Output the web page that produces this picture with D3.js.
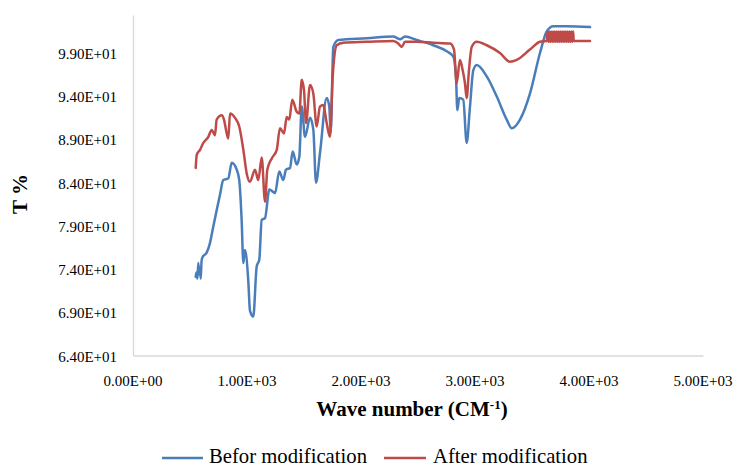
<!DOCTYPE html>
<html>
<head>
<meta charset="utf-8">
<script src="https://cdn.jsdelivr.net/npm/d3@7"></script>
<style>
  html, body { margin: 0; padding: 0; background: #fff; }
  svg { display: block; }
  svg text { font-family: "Liberation Serif", "Times New Roman", serif; fill: #000; }
</style>
</head>
<body>
<svg id="chart" width="739" height="466"></svg>
<script>
// ---- data ----
const xTicks = [0, 1000, 2000, 3000, 4000, 5000];
const yTicks = [64, 69, 74, 79, 84, 89, 94, 99];

const beforeX = [550, 557, 565, 573, 580, 587, 594, 602, 611, 646, 675, 704, 734, 763, 792, 836, 866, 910, 932, 953, 968, 982, 1011, 1026, 1055,
  1085, 1108, 1129, 1158, 1196, 1246, 1283, 1318, 1342, 1377, 1401, 1436, 1459, 1480, 1509, 1553, 1582, 1605, 1640, 1699,
  1722, 1734, 1757, 1801, 2050, 2283, 2342, 2386, 2489, 2634, 2752, 2810, 2833, 2845, 2862, 2897, 2927, 2956, 2985, 3015,
  3103, 3190, 3278, 3322, 3395, 3482, 3570, 3629, 3687, 3804, 4009];
const beforeY = [73.1, 73.6, 72.9, 74.7, 73.4, 74.2, 72.9, 75.0, 75.4, 75.9, 77.0, 78.9, 80.8, 82.6, 84.3, 84.5, 86.3, 85.5, 84.3, 79.7, 74.7, 76.2, 72.7, 69.2, 68.5,
  74.3, 75.1, 79.7, 79.9, 83.2, 82.8, 85.3, 84.3, 85.5, 85.7, 87.6, 86.1, 87.0, 92.8, 89.3, 91.5, 90.1, 84.0, 87.4, 93.8,
  92.8, 89.8, 99.7, 100.5, 100.7, 100.9, 100.6, 100.9, 100.5, 99.9, 99.2, 98.6, 96.3, 92.4, 93.8, 93.6, 88.6, 92.8, 97.0, 97.6,
  96.3, 94.0, 91.3, 90.3, 91.3, 94.3, 99.0, 101.5, 102.1, 102.1, 102.0];

const afterX = [550, 559, 588, 617, 661, 690, 719, 734, 778, 798, 822, 836, 851, 895, 932, 968, 997, 1026, 1070, 1099,
  1129, 1158, 1178, 1217, 1261, 1289, 1325, 1348, 1371, 1397, 1436, 1459, 1480, 1500, 1518, 1553, 1582, 1611, 1640, 1669,
  1699, 1728, 1752, 1787, 1845, 2050, 2283, 2327, 2357, 2386, 2489, 2634, 2781, 2816, 2839, 2868, 2892, 2912, 2927, 2947,
  2971, 3015, 3103, 3219, 3307, 3366, 3482, 3570, 3629,
  3637, 3645, 3653, 3661, 3669, 3677, 3685, 3693, 3701, 3709, 3717, 3725, 3733, 3741, 3749, 3757, 3765, 3773, 3781, 3789,
  3797, 3805, 3813, 3821, 3829, 3837, 3845, 3853, 3861, 3866, 4009];
const afterY = [85.7, 87.2, 87.8, 88.6, 89.3, 90.1, 89.5, 91.3, 91.8, 91.3, 89.7, 89.1, 92.0, 91.5, 90.5, 87.8, 85.1, 84.1, 85.5, 84.3,
  86.9, 81.8, 85.5, 86.8, 87.8, 90.3, 89.7, 91.6, 91.3, 93.6, 92.2, 92.0, 95.9, 94.7, 90.9, 95.3, 94.3, 90.5, 92.8, 93.0,
  90.9, 89.3, 96.3, 99.9, 100.2, 100.3, 100.4, 100.1, 99.7, 100.3, 100.3, 100.2, 100.1, 99.4, 95.5, 98.2, 97.0, 95.5, 93.8, 97.0,
  99.7, 100.3, 99.9, 99.0, 98.0, 98.2, 99.4, 100.3, 100.4,
  101.5, 100.3, 101.5, 100.3, 101.5, 100.3, 101.5, 100.3, 101.5, 100.3, 101.5, 100.3, 101.5, 100.3, 101.5, 100.3, 101.5, 100.3, 101.5, 100.3,
  101.5, 100.3, 101.5, 100.3, 101.5, 100.3, 101.5, 100.3, 101.5, 100.4, 100.4];

const seriesNames = ["Befor modification", "After modification"];
const seriesColors = ["#4A7EBB", "#BE4B48"];

// ---- layout ----
const svg = d3.select("#chart");
const plot = { left: 133, right: 703, top: 15, bottom: 355.5 };

const x = d3.scaleLinear().domain([0, 5000]).range([plot.left, plot.right]);
const y = d3.scaleLinear().domain([64, 103.4]).range([plot.bottom, plot.top]);

const fmt = v => {
  const e = v === 0 ? 0 : Math.floor(Math.log10(Math.abs(v)));
  const m = v / Math.pow(10, e);
  return m.toFixed(2) + "E" + (e >= 0 ? "+" : "-") + String(Math.abs(e)).padStart(2, "0");
};

// axis lines (no tick marks)
const gx = svg.append("g").attr("transform", `translate(0,${plot.bottom})`)
  .call(d3.axisBottom(x).tickValues([]).tickSizeOuter(0));
gx.select(".domain").attr("stroke", "#d9d9d9").attr("stroke-width", 1.3);
const gy = svg.append("g").attr("transform", `translate(${plot.left},0)`)
  .call(d3.axisLeft(y).tickValues([]).tickSizeOuter(0));
gy.select(".domain").attr("stroke", "#d9d9d9").attr("stroke-width", 1.3);

// tick labels
svg.append("g").selectAll("text").data(xTicks).join("text")
  .attr("x", d => x(d)).attr("y", plot.bottom + 30.5)
  .attr("text-anchor", "middle").attr("font-size", 15)
  .text(fmt);
svg.append("g").selectAll("text").data(yTicks).join("text")
  .attr("x", plot.left - 16).attr("y", d => y(d) + 6)
  .attr("text-anchor", "end").attr("font-size", 15)
  .text(fmt);

// lines
const series = [
  beforeX.map((v, i) => [v, beforeY[i]]),
  afterX.map((v, i) => [v, afterY[i]])
];
const line = d3.line().x(d => x(d[0])).y(d => y(d[1])).curve(d3.curveMonotoneX);
series.forEach((s, i) => {
  svg.append("path").datum(s)
    .attr("fill", "none")
    .attr("stroke", seriesColors[i])
    .attr("stroke-width", 2.5)
    .attr("stroke-linejoin", "round")
    .attr("stroke-linecap", "round")
    .attr("d", line);
});

// axis titles
const xt = svg.append("text")
  .attr("x", 412).attr("y", 416)
  .attr("text-anchor", "middle")
  .attr("font-size", 21).attr("font-weight", "bold");
xt.append("tspan").text("Wave number (CM");
xt.append("tspan").text("-1").attr("font-size", 13).attr("dy", -7);
xt.append("tspan").text(")").attr("dy", 7);

svg.append("text")
  .attr("transform", "translate(27,194) rotate(-90)")
  .attr("text-anchor", "middle")
  .attr("font-size", 21).attr("font-weight", "bold")
  .text("T %");

// legend
const legendItems = [
  { x1: 162, x2: 203, tx: 209 },
  { x1: 384, x2: 426, tx: 433 }
];
legendItems.forEach((it, i) => {
  svg.append("line").attr("x1", it.x1).attr("x2", it.x2).attr("y1", 458).attr("y2", 458)
    .attr("stroke", seriesColors[i]).attr("stroke-width", 2.5);
  svg.append("text").attr("x", it.tx).attr("y", 463).attr("font-size", 20.7).text(seriesNames[i]);
});
</script>
</body>
</html>
